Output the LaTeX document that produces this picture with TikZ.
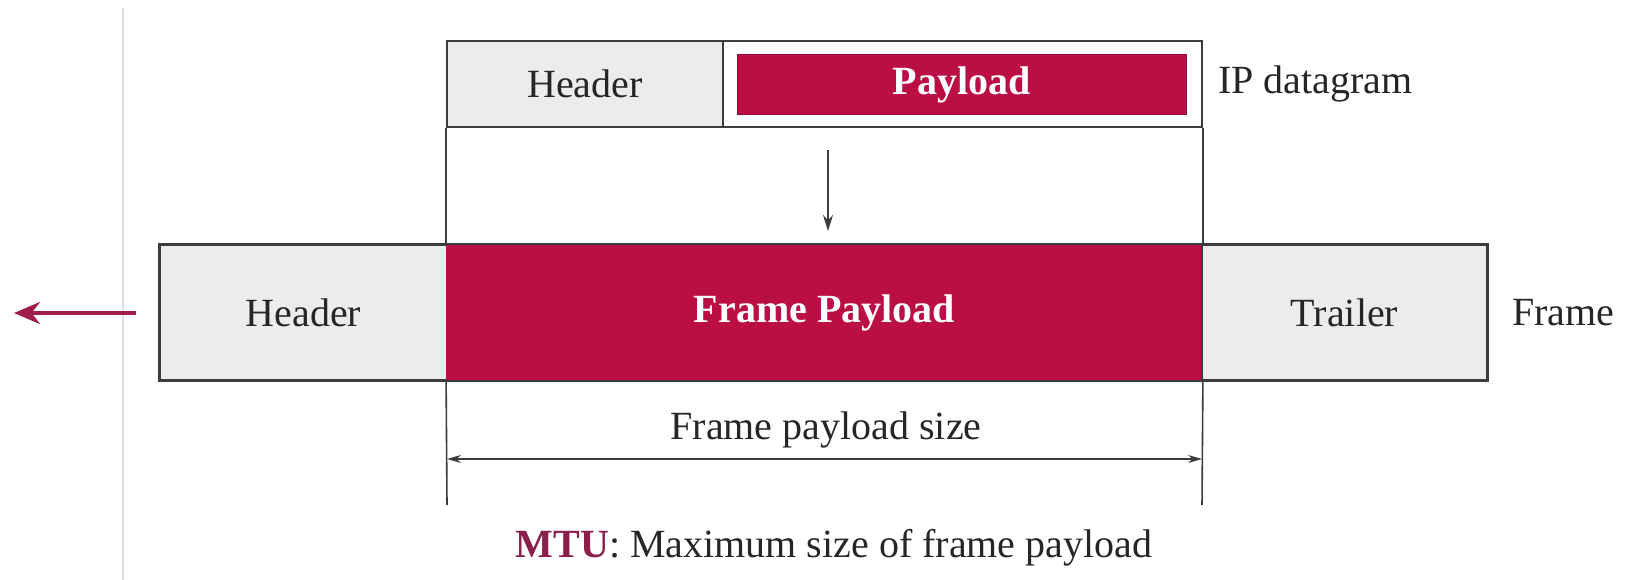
\documentclass[tikz,border=0pt]{standalone}
\usepackage{fontspec}
\setmainfont{Liberation Serif}
\usetikzlibrary{arrows.meta}
\definecolor{crim}{RGB}{186,14,68}
\definecolor{hdrgrey}{RGB}{236,236,239}
\definecolor{mtured}{RGB}{140,30,75}
\definecolor{arrred}{RGB}{160,30,75}
\definecolor{edge}{RGB}{60,60,60}
\tikzset{
  cell/.style={draw=edge, line width=1.8pt, inner sep=0pt, minimum height=#1, anchor=center},
  greycell/.style={cell=#1, fill=hdrgrey},
  redcell/.style={cell=#1, fill=crim, draw=crim},
  lbl/.style={inner sep=0pt, font=\fontsize{40}{48}\selectfont, text=black!85},
  wlbl/.style={inner sep=0pt, font=\fontsize{40}{48}\selectfont\bfseries, text=white},
  thin/.style={draw=edge, line width=1.6pt},
}
\begin{document}
\begin{tikzpicture}[x=1pt,y=-1pt]
\useasboundingbox[fill=white] (0,0) rectangle (1632,580);
% faint page edge line
\coordinate (g1) at (123,8);
\coordinate (g2) at (123,580);
\draw[black!12, line width=1.5pt] (g1) -- (g2);
% IP datagram
\node[greycell=86pt, minimum width=276pt] (dhead) at (585,84) {};
\node[cell=86pt, minimum width=479pt, fill=white] (dpay) at (962.5,84) {};
\node[redcell=60pt, minimum width=449pt, draw=crim!80!black, line width=1pt] (rpay) at (961.5,85) {};
\node[lbl] at (dhead.center) {Header};
\node[wlbl] at (rpay.center) {Payload};
\node[lbl, anchor=west] (ipd) at (1218,84) {IP datagram};
% Frame
\node[greycell=135pt, minimum width=287pt] (fhead) at (303.5,312.5) {};
\node[redcell=135pt, minimum width=755pt] (fpay) at (824.5,312.5) {};
\node[greycell=135pt, minimum width=285pt] (ftrl) at (1344.5,312.5) {};
\draw[edge, line width=1.8pt] (fhead.north west) -- (ftrl.north east) -- (ftrl.south east) -- (fhead.south west) -- cycle;
\node[lbl] at (fhead.center) {Header};
\node[wlbl] at (fpay.center) {Frame Payload};
\node[lbl] at (ftrl.center) {Trailer};
\node[lbl, anchor=west] (frm) at (1512,313) {Frame};
% vertical guide lines
\coordinate (bl) at (447,505);
\coordinate (br) at (1202,505);
\draw[thin] (dhead.south west) -- (fpay.north west);
\draw[thin] (dpay.south east) -- (fpay.north east);
\draw[thin] (fpay.south west) -- (bl);
\draw[thin] (fpay.south east) -- (br);
% down arrow
\coordinate (a1) at (828,150);
\coordinate (a2) at (828,231);
\draw[thin, -{Stealth[length=16pt,width=10pt]}] (a1) -- (a2);
% red arrow to the left
\coordinate (r1) at (136,313);
\coordinate (r2) at (14,313);
\draw[arrred, line width=4pt, -{Stealth[length=26pt,width=22pt]}] (r1) -- (r2);
% dimension
\node[lbl] (fps) at (826,430) {Frame payload size};
\coordinate (dl) at (447,459);
\coordinate (dr) at (1202,459);
\draw[thin, line width=1.4pt, {Stealth[length=14pt,width=8pt]}-{Stealth[length=14pt,width=8pt]}] (dl) -- (dr);
% MTU
\node[lbl] (mtu) at (834,548) {\textbf{\textcolor{mtured}{MTU}}: Maximum size of frame payload};
\end{tikzpicture}
\end{document}
